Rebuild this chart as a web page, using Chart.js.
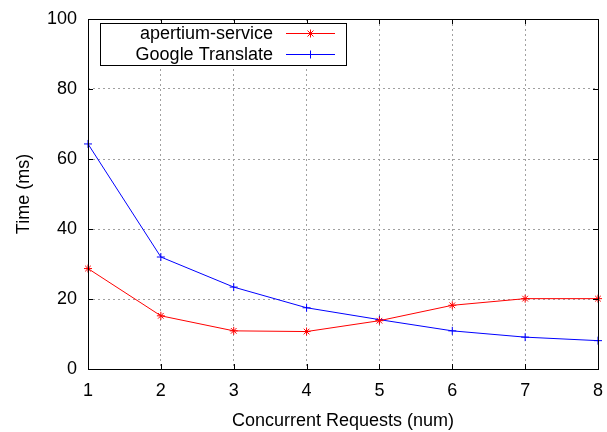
<!DOCTYPE html>
<html>
<head>
<meta charset="utf-8">
<script src="https://cdn.jsdelivr.net/npm/chart.js@4"></script>
<style>
  html, body { margin: 0; padding: 0; background: #fff; }
  #wrap { width: 607px; height: 432px; }
</style>
</head>
<body>
<div id="wrap"><canvas id="graph" width="607" height="432"></canvas></div>
<script>
// Data
const requests = [1, 2, 3, 4, 5, 6, 7, 8];
const apertiumTimes = [28.7, 15.2, 10.9, 10.7, 13.8, 18.2, 20.1, 20.1];
const googleTimes = [64.3, 32.0, 23.4, 17.5, 14.1, 10.9, 9.1, 8.1];
const seriesNames = ['apertium-service', 'Google Translate'];

const FONT = 'Liberation Sans, Arial, sans-serif';

// gnuplot-style frame, inward ticks and key box
const framePlugin = {
  id: 'frame',
  afterDatasetsDraw(chart) {
    const { ctx, chartArea: a, scales } = chart;
    ctx.save();
    ctx.strokeStyle = '#000';
    ctx.lineWidth = 1;
    ctx.strokeRect(a.left + 0.5, a.top + 0.5, a.right - a.left, a.bottom - a.top);

    // inward tick marks
    ctx.beginPath();
    scales.x.ticks.forEach(t => {
      const px = Math.round(scales.x.getPixelForValue(t.value)) + 0.5;
      ctx.moveTo(px, a.bottom); ctx.lineTo(px, a.bottom - 5);
      ctx.moveTo(px, a.top); ctx.lineTo(px, a.top + 5);
    });
    scales.y.ticks.forEach(t => {
      const py = Math.round(scales.y.getPixelForValue(t.value)) + 0.5;
      ctx.moveTo(a.left, py); ctx.lineTo(a.left + 5, py);
      ctx.moveTo(a.right, py); ctx.lineTo(a.right - 5, py);
    });
    ctx.stroke();

    // key
    const bx = 100, by = 23, bw = 246, bh = 42;
    ctx.fillStyle = '#fff';
    ctx.fillRect(bx, by, bw, bh);
    ctx.strokeRect(bx + 0.5, by + 0.5, bw, bh);
    ctx.font = '18px ' + FONT;
    ctx.textAlign = 'right';
    ctx.textBaseline = 'middle';
    const rows = [33, 54];
    chart.data.datasets.forEach((ds, i) => {
      ctx.fillStyle = '#000';
      ctx.fillText(ds.label, 273, rows[i] + 1);
      ctx.strokeStyle = ds.borderColor;
      ctx.beginPath();
      ctx.moveTo(286, rows[i] + 0.5); ctx.lineTo(335, rows[i] + 0.5);
      ctx.stroke();
      // marker sample
      const cx = 310.5, cy = rows[i] + 0.5, r = 4;
      ctx.beginPath();
      ctx.moveTo(cx - r, cy); ctx.lineTo(cx + r, cy);
      ctx.moveTo(cx, cy - r); ctx.lineTo(cx, cy + r);
      if (ds.pointStyle === 'star') {
        const d = r * 0.75;
        ctx.moveTo(cx - d, cy - d); ctx.lineTo(cx + d, cy + d);
        ctx.moveTo(cx - d, cy + d); ctx.lineTo(cx + d, cy - d);
      }
      ctx.stroke();
      ctx.strokeStyle = '#000';
    });
    ctx.restore();
  }
};

const ctx = document.getElementById('graph').getContext('2d');
new Chart(ctx, {
  type: 'line',
  data: {
    datasets: [{
      label: seriesNames[0],
      data: requests.map((r, i) => ({ x: r, y: apertiumTimes[i] })),
      borderColor: '#ff0000',
      backgroundColor: '#ff0000',
      borderWidth: 1,
      pointStyle: 'star',
      pointRadius: 4,
      pointBorderWidth: 1,
      tension: 0,
      clip: false
    }, {
      label: seriesNames[1],
      data: requests.map((r, i) => ({ x: r, y: googleTimes[i] })),
      borderColor: '#0000ff',
      backgroundColor: '#0000ff',
      borderWidth: 1,
      pointStyle: 'cross',
      pointRadius: 4,
      pointBorderWidth: 1,
      tension: 0,
      clip: false
    }]
  },
  options: {
    responsive: false,
    animation: false,
    layout: { padding: { top: 19, right: 9, left: 0, bottom: 0 } },
    scales: {
      x: {
        type: 'linear',
        min: 1,
        max: 8,
        ticks: { stepSize: 1, color: '#000', font: { family: FONT, size: 18 }, padding: 11 },
        grid: {
          color: c => (c.tick.value === 1 || c.tick.value === 8) ? 'rgba(0,0,0,0)' : '#a0a0a0',
          drawTicks: false
        },
        border: { display: false, dash: [2, 3] },
        title: { display: true, text: 'Concurrent Requests (num)', color: '#000', font: { family: FONT, size: 18 }, padding: { top: 8, bottom: 0 } },
        afterFit: s => { s.height = 63; s.paddingLeft = 0; s.paddingRight = 0; }
      },
      y: {
        min: 0,
        max: 100,
        ticks: { stepSize: 20, color: '#000', font: { family: FONT, size: 18 }, padding: 11 },
        grid: {
          color: c => (c.tick.value === 0 || c.tick.value === 100) ? 'rgba(0,0,0,0)' : '#a0a0a0',
          drawTicks: false
        },
        border: { display: false, dash: [2, 3] },
        title: { display: true, text: 'Time (ms)', color: '#000', font: { family: FONT, size: 18 }, padding: { top: 13, bottom: 6 } },
        afterFit: s => { s.width = 88; s.paddingTop = 0; s.paddingBottom = 0; }
      }
    },
    plugins: {
      legend: { display: false },
      tooltip: { enabled: false }
    }
  },
  plugins: [framePlugin]
});
</script>
</body>
</html>
